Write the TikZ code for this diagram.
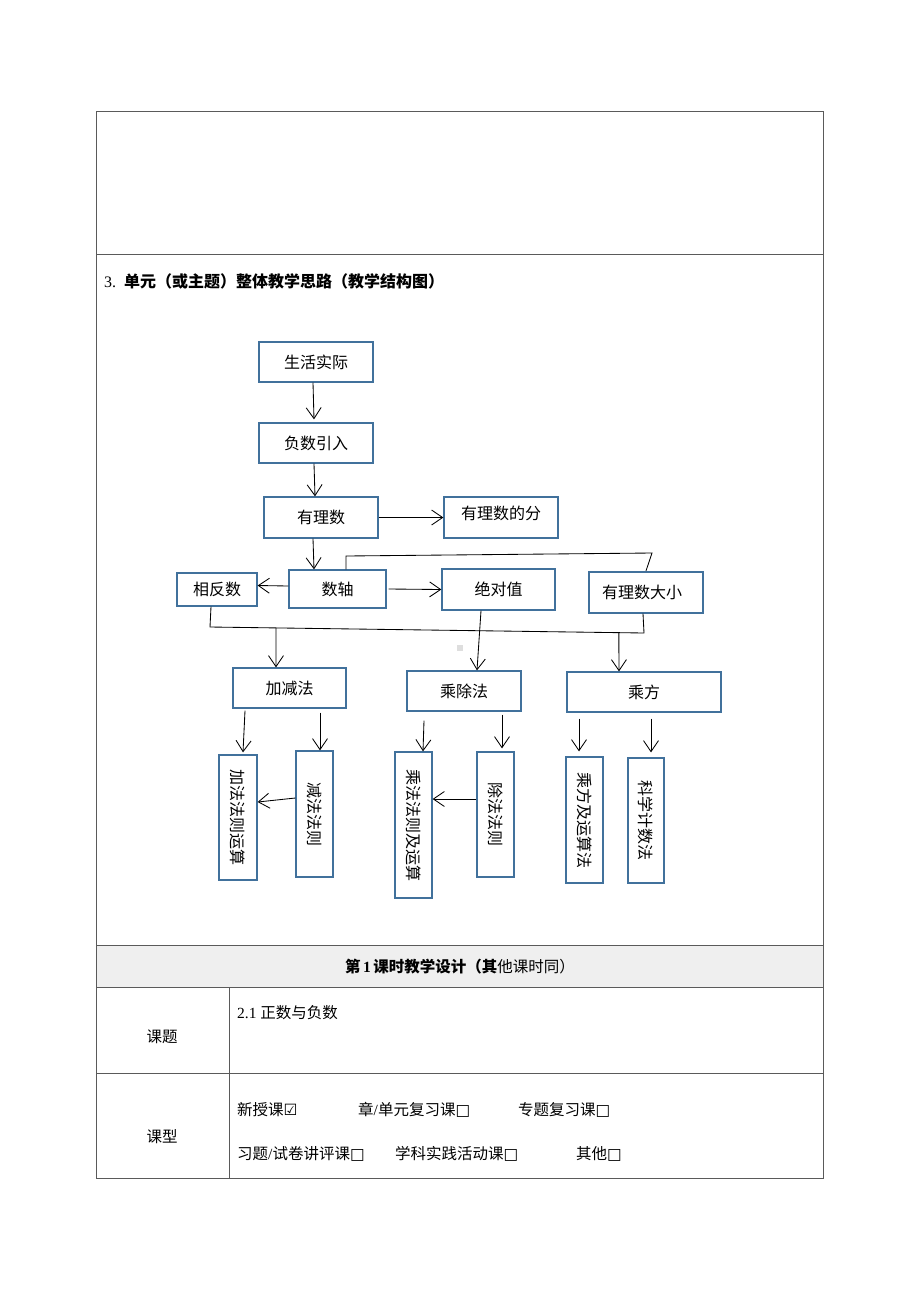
\documentclass[tikz,border=0pt]{standalone}
\usepackage{fontspec}
\usepackage{graphicx}
\setmainfont{Liberation Serif}
\newfontfamily\cjk{Noto Sans CJK SC}
\newfontfamily\sym{DejaVu Sans}
\usetikzlibrary{arrows.meta,calc}
\definecolor{boxblue}{RGB}{65,113,156}
\definecolor{rowgray}{RGB}{239,239,239}
\definecolor{rulegray}{RGB}{90,90,90}

\begin{document}
\begin{tikzpicture}
        [
            x                   = 1pt,
            y                   = -1pt,
            boxed/.style        = {shape=rectangle, draw=boxblue, line width=1.3pt, fill=white, inner sep=0pt,
                                   align=center, font=\cjk\fontsize{16}{16}\selectfont},
            upright/.style      = {boxed, minimum width=37pt},
            link/.style         = {draw, line width=0.85pt, -{Straight Barb[length=11pt,width=15pt]}},
            joint/.style        = {draw, line width=0.85pt},
            rule/.style         = {draw=rulegray, line width=1pt},
            cell/.style         = {inner sep=0pt, font=\fontsize{15.5}{15.5}\selectfont},
        ]
        \useasboundingbox (0,0) rectangle (920,1302);
        \fill [rowgray] (96,945) rectangle (823,987);
        \draw [rule] (96,111) rectangle (823,1178);
        \draw [rule] (96,254) -- (823,254);
        \draw [rule] (96,945) -- (823,945);
        \draw [rule] (96,987) -- (823,987);
        \draw [rule] (96,1073) -- (823,1073);
        \draw [rule] (229,987) -- (229,1178);

        \node [cell, anchor=west, font=\fontsize{16}{16}\selectfont] (heading) at (104,281)
            {3.\ \ {\cjk\bfseries 单元（或主题）整体教学思路（教学结构图）}};

        \node [boxed, minimum width=114pt, minimum height=40pt] (shenghuo) at (316,362) {生活实际};
        \node [boxed, minimum width=114pt, minimum height=40pt] (fushu) at (316,443) {负数引入};
        \node [boxed, minimum width=114pt, minimum height=41pt] (youlishu) at (321,517.5) {有理数};
        \node [boxed, minimum width=114pt, minimum height=41pt, text depth=9pt] (fenlei) at (501,517.5) {有理数的分};
        \node [boxed, minimum width=97pt, minimum height=38pt] (shuzhou) at (337.5,589) {数轴};
        \node [boxed, minimum width=80pt, minimum height=33pt] (xiangfan) at (217,589.5) {相反数};
        \node [boxed, minimum width=113pt, minimum height=41pt] (jueduizhi) at (498.5,589.5) {绝对值};
        \node [boxed, minimum width=114pt, minimum height=41pt, text width=88pt, align=left] (daxiao) at (646,592.5) {有理数大小};
        \node [boxed, minimum width=113pt, minimum height=40pt] (jiajian) at (289.5,688) {加减法};
        \node [boxed, minimum width=114pt, minimum height=40pt] (chengchu) at (464,691) {乘除法};
        \node [boxed, minimum width=154pt, minimum height=40pt] (chengfang) at (644,692) {乘方};
        \node [upright, minimum width=38pt, minimum height=125pt] (jiafa) at (238,817.5) {\rotatebox{-90}{加法法则运算}};
        \node [upright, minimum height=126pt] (jianfa) at (314.5,814) {\rotatebox{-90}{减法法则}};
        \node [upright, minimum height=146pt] (chengfa) at (413.5,825) {\rotatebox{-90}{乘法法则及运算}};
        \node [upright, minimum height=125pt] (chufa) at (495.5,814.5) {\rotatebox{-90}{除法法则}};
        \node [upright, minimum height=126pt] (chengfangfa) at (584.5,820) {\rotatebox{-90}{乘方及运算法}};
        \node [upright, minimum width=36pt, minimum height=125pt] (kexue) at (646,820.5) {\rotatebox{-90}{科学计数法}};
        \fill [black!13] (457,645) rectangle (463,651);

        \coordinate (topl) at (346,556);
        \coordinate (topr) at (652,553);
        \coordinate (botl) at (210,627);
        \coordinate (botr) at (644,633);

        \draw [link] ($(shenghuo.south)+(-3,0)$) -- ($(fushu.north)+(-2,-3)$);
        \draw [link] ($(fushu.south)+(-2,0)$) -- ($(youlishu.north)+(-6,0)$);
        \draw [link] (youlishu.east) -- (fenlei.west);
        \draw [link] ($(youlishu.south)+(-8,0)$) -- ($(shuzhou.north)+(-23.5,0)$);
        \draw [link] ($(shuzhou.west)+(0,-3)$) -- ($(xiangfan.east)+(0,-4)$);
        \draw [link] ($(shuzhou.east)+(2,0)$) -- (jueduizhi.west);
        \draw [joint] ($(shuzhou.north)+(8.5,0)$) -- (topl) -- (topr) -- ($(daxiao.north)+(0,-0.5)$);
        \draw [joint] ($(xiangfan.south)+(-6,0)$) -- (botl) -- (botr) -- ($(daxiao.south)+(-3,0)$);
        \draw [link] ($(botl)!0.152!(botr)$) -- ($(jiajian.north)+(-13.5,0)$);
        \draw [link] ($(botl)!0.942!(botr)$) -- ($(chengfang.north)+(-25,0)$);
        \draw [link] ($(jueduizhi.south)+(-17.5,0)$) -- ($(chengchu.north)+(13,0)$);

        \draw [link] ($(jiajian.south)+(-44.5,2)$) -- ($(jiafa.north)+(5,-2)$);
        \draw [link] ($(jiajian.south)+(30.5,4)$) -- ($(jianfa.north)+(5.5,0)$);
        \draw [link] ($(jianfa.west)+(0,-16)$) -- ($(jiafa.east)+(0,-15.5)$);
        \draw [link] ($(chengchu.south)+(-40,9)$) -- ($(chengfa.north)+(9.5,0)$);
        \draw [link] ($(chengchu.south)+(38,3)$) -- ($(chufa.north)+(6.5,-3)$);
        \draw [link] ($(chufa.west)+(0,-15.5)$) -- ($(chengfa.east)+(0,-26)$);
        \draw [link] ($(chengfang.south)+(-65,6)$) -- ($(chengfangfa.north)+(-5.5,-5)$);
        \draw [link] ($(chengfang.south)+(7,6)$) -- ($(kexue.north)+(5,-5)$);

        \node [cell] (lessontitle) at (460,967)
            {{\cjk\bfseries 第}\,\textbf{1}\,{\cjk\bfseries 课时教学设计（其}{\cjk 他课时同）}};
        \node [cell, font=\cjk\fontsize{15.5}{15.5}\selectfont] (ketilabel) at (162,1037) {课题};
        \node [cell, anchor=west] (ketitext) at (237,1013) {2.1 {\cjk 正数与负数}};
        \node [cell, font=\cjk\fontsize{15.5}{15.5}\selectfont] (kexinglabel) at (162,1137) {课型};
        \node [cell, anchor=west] (xinshou) at (237,1110) {{\cjk 新授课}{\sym\bfseries ☑}};
        \node [cell, anchor=west] (zhang) at (358,1110) {{\cjk 章}/{\cjk 单元复习课}{\sym □}};
        \node [cell, anchor=west] (zhuanti) at (518,1110) {{\cjk 专题复习课}{\sym □}};
        \node [cell, anchor=west] (xiti) at (237,1154) {{\cjk 习题}/{\cjk 试卷讲评课}{\sym □}};
        \node [cell, anchor=west] (shijian) at (395,1154) {{\cjk 学科实践活动课}{\sym □}};
        \node [cell, anchor=west] (qita) at (576,1154) {{\cjk 其他}{\sym □}};
    \end{tikzpicture}
\end{document}
